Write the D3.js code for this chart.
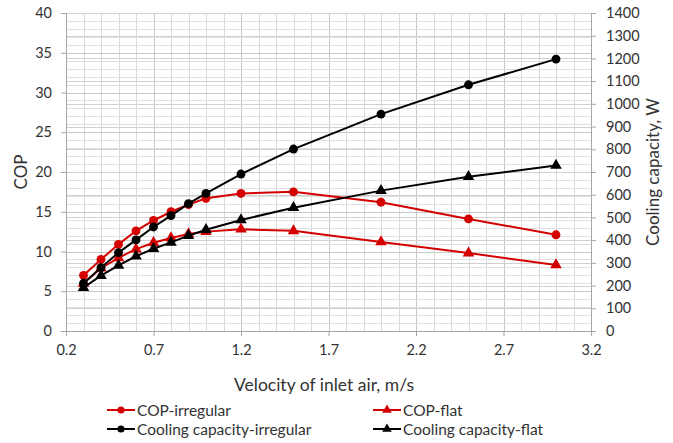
<!DOCTYPE html>
<html><head><meta charset="utf-8">
<script src="https://cdn.jsdelivr.net/npm/d3@7"></script>
<style>body{margin:0;background:#fff}svg{display:block}text{font-family:Lato,"Open Sans",sans-serif;fill:#333}</style>
</head><body><svg id="c" width="673" height="443"></svg>
<script>
const velocity = [0.3,0.4,0.5,0.6,0.7,0.8,0.9,1.0,1.2,1.5,2.0,2.5,3.0];
const copIrregular = [7.0,9.0,10.9,12.6,13.9,15.0,15.9,16.7,17.3,17.5,16.2,14.1,12.1];
const copFlat = [6.0,7.9,9.2,10.3,11.1,11.7,12.2,12.5,12.8,12.6,11.2,9.8,8.3];
const capIrregular = [210,279,345,401,458,508,561,606,691,801,955,1084,1197];
const capFlat = [191,244,289,329,362,390,420,446,489,543,618,679,729];
const xTicks = [0.2,0.7,1.2,1.7,2.2,2.7,3.2];
const leftTicks = [0,5,10,15,20,25,30,35,40];
const rightTicks = d3.range(0,1401,100);

const svg = d3.select("#c");
const L=66,R=591,T=13,B=331;
const x = d3.scaleLinear().domain([0.2,3.2]).range([L,R]);
const yL = d3.scaleLinear().domain([0,40]).range([B,T]);
const yR = d3.scaleLinear().domain([0,1400]).range([B,T]);

const g = svg.append("g");
// grid
g.selectAll(".vx").data(d3.range(0,31).map(i=>0.2+i*0.1)).join("line")
  .attr("x1",d=>Math.round(x(d))+0.5).attr("x2",d=>Math.round(x(d))+0.5).attr("y1",T).attr("y2",B)
  .attr("stroke",(d,i)=>i%5===0?"#c8c8c8":"#d9d9d9").attr("stroke-width",1);
g.selectAll(".hl").data(d3.range(0,41)).join("line")
  .attr("x1",L).attr("x2",R).attr("y1",d=>Math.round(yL(d))+0.5).attr("y2",d=>Math.round(yL(d))+0.5)
  .attr("stroke",d=>d%5===0?"#c8c8c8":"#e0e0e0");
g.selectAll(".hr").data(rightTicks).join("line")
  .attr("x1",L).attr("x2",R).attr("y1",d=>Math.round(yR(d))+0.5).attr("y2",d=>Math.round(yR(d))+0.5)
  .attr("stroke","#d0d0d0");

// axes
const ax = svg.append("g").attr("transform",`translate(0,${B})`)
  .call(d3.axisBottom(x).tickValues(xTicks).tickFormat(d3.format(".1f")).tickSize(5).tickPadding(9));
const al = svg.append("g").attr("transform",`translate(${L},0)`)
  .call(d3.axisLeft(yL).tickValues(leftTicks).tickFormat(d3.format("d")).tickSize(5).tickPadding(9));
const ar = svg.append("g").attr("transform",`translate(${R},0)`)
  .call(d3.axisRight(yR).tickValues(rightTicks).tickFormat(d3.format("d")).tickSize(5).tickPadding(10));
[ax,al,ar].forEach(a=>{
  a.select(".domain").attr("stroke","#a6a6a6");
  a.selectAll(".tick line").attr("stroke","#a6a6a6");
  a.selectAll("text").style("font-size","14.5px").attr("fill","#333");
});

// series
const series = [
  {name:"COP-irregular",vals:copIrregular,y:yL,color:"#d40000",shape:"circle"},
  {name:"COP-flat",vals:copFlat,y:yL,color:"#d40000",shape:"triangle"},
  {name:"Cooling capacity-irregular",vals:capIrregular,y:yR,color:"#000",shape:"circle"},
  {name:"Cooling capacity-flat",vals:capFlat,y:yR,color:"#000",shape:"triangle"}
];
const sym = s=>d3.symbol().type(s==="circle"?d3.symbolCircle:d3.symbolTriangle).size(s==="circle"?62:58);
series.forEach(s=>{
  const line = d3.line().x((d,i)=>x(velocity[i])).y(d=>s.y(d));
  svg.append("path").datum(s.vals).attr("d",line).attr("fill","none").attr("stroke",s.color).attr("stroke-width",2);
  svg.append("g").selectAll("path").data(s.vals).join("path")
    .attr("d",sym(s.shape)).attr("transform",(d,i)=>`translate(${x(velocity[i])},${s.y(d)})`).attr("fill",s.color);
});

// titles
svg.append("text").attr("x",324).attr("y",391).attr("text-anchor","middle").style("font-size","17.5px").text("Velocity of inlet air, m/s");
svg.append("text").attr("transform","translate(27,172) rotate(-90)").attr("text-anchor","middle").style("font-size","17px").text("COP");
svg.append("text").attr("transform","translate(659,172) rotate(-90)").attr("text-anchor","middle").style("font-size","17px").text("Cooling capacity, W");

// legend
const legPos = [[107,410],[373,410],[107,429],[373,429]];
series.forEach((s,i)=>{
  const [lx,ly]=legPos[i];
  const lg = svg.append("g").attr("transform",`translate(${lx},${ly})`);
  lg.append("line").attr("x1",0).attr("x2",28).attr("y1",0).attr("y2",0).attr("stroke",s.color).attr("stroke-width",2);
  lg.append("path").attr("d",d3.symbol().type(s.shape==="circle"?d3.symbolCircle:d3.symbolTriangle).size(40)).attr("transform","translate(14,0)").attr("fill",s.color);
  lg.append("text").attr("x",30).attr("y",5.5).style("font-size","15.5px").text(s.name);
});
</script></body></html>
